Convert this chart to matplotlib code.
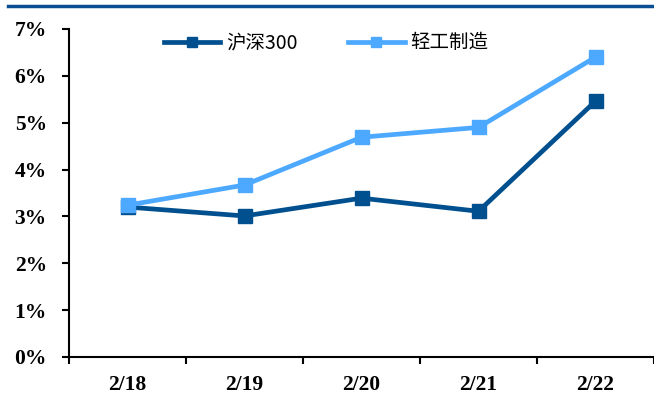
import matplotlib
matplotlib.use('Agg')
import matplotlib.pyplot as plt
from matplotlib.lines import Line2D
from matplotlib.ticker import FixedLocator, FuncFormatter

dates = ['2/18', '2/19', '2/20', '2/21', '2/22']
hs300 = [3.20, 3.01, 3.39, 3.11, 5.46]
light_industry = [3.24, 3.67, 4.69, 4.90, 6.40]
series_names = ['沪深300', '轻工制造']

dark_blue = '#00508F'
light_blue = '#4DA9FF'

plt.rcParams['font.family'] = ['Noto Sans CJK SC', 'DejaVu Sans']

fig = plt.figure(figsize=(6.54, 4.0), dpi=100)
ax = fig.add_axes([69 / 654, 43 / 400, 585 / 654, 328 / 400])

x = list(range(len(dates)))
ax.plot(x, hs300, color=dark_blue, lw=3.4, marker='s', ms=10, label=series_names[0])
ax.plot(x, light_industry, color=light_blue, lw=3.4, marker='s', ms=10, label=series_names[1])

ax.set_xlim(-0.5, 4.5)
ax.set_ylim(0, 7)
ax.set_yticks(range(0, 8))
ax.yaxis.set_major_formatter(FuncFormatter(lambda v, p: f'{int(v)}%'))
ax.set_xticks(x)
ax.set_xticklabels(dates)
ax.xaxis.set_minor_locator(FixedLocator([i - 0.5 for i in range(len(dates) + 1)]))
ax.tick_params(axis='x', which='major', length=0, pad=13)
ax.tick_params(axis='x', which='minor', length=5, width=1.5, direction='out')
ax.tick_params(axis='y', length=5, width=1.5, direction='out', pad=11)

for lab in ax.get_xticklabels() + ax.get_yticklabels():
    lab.set_fontfamily('Liberation Serif')
    lab.set_fontweight('bold')
    lab.set_fontsize(15.5)

for side in ['top', 'right']:
    ax.spines[side].set_visible(False)
for side in ['left', 'bottom']:
    ax.spines[side].set_linewidth(1.5)

leg = fig.legend(loc='center left', bbox_to_anchor=(164 / 654, 1 - 43 / 400), ncol=2, frameon=False,
                 fontsize=14, handlelength=2.9, columnspacing=2.6, handletextpad=0.3,
                 borderpad=0, borderaxespad=0, markerscale=0.75)

# top decorative rule
fig.add_artist(Line2D([8 / 654, 1.0], [1 - 6 / 400, 1 - 6 / 400], color='#0A4F93', lw=2.5))

fig.savefig('out.png', dpi=100)
